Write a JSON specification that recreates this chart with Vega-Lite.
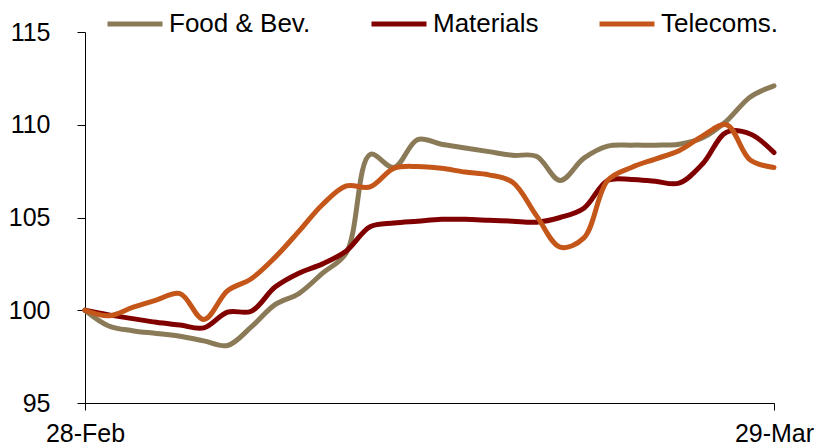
{
  "$schema": "https://vega.github.io/schema/vega-lite/v6.json",
  "autosize": "none",
  "width": 689,
  "height": 371,
  "padding": {"left": 85, "top": 32, "right": 50, "bottom": 44},
  "background": "white",
  "config": {
    "view": {"stroke": null},
    "font": "Liberation Sans",
    "axis": {"labelFont": "Liberation Sans", "labelColor": "#000000", "grid": false, "domainColor": "#000000", "tickColor": "#000000", "domainWidth": 1, "tickWidth": 1}
  },
  "data": {
    "values": [
      {"date": "2013/02/28", "series": "Food & Bev.", "value": 100.0},
      {"date": "2013/03/01", "series": "Food & Bev.", "value": 99.15},
      {"date": "2013/03/02", "series": "Food & Bev.", "value": 98.9},
      {"date": "2013/03/03", "series": "Food & Bev.", "value": 98.75},
      {"date": "2013/03/04", "series": "Food & Bev.", "value": 98.6},
      {"date": "2013/03/05", "series": "Food & Bev.", "value": 98.35},
      {"date": "2013/03/06", "series": "Food & Bev.", "value": 98.1},
      {"date": "2013/03/07", "series": "Food & Bev.", "value": 99.1},
      {"date": "2013/03/08", "series": "Food & Bev.", "value": 100.3},
      {"date": "2013/03/09", "series": "Food & Bev.", "value": 100.9},
      {"date": "2013/03/10", "series": "Food & Bev.", "value": 102.0},
      {"date": "2013/03/11", "series": "Food & Bev.", "value": 103.1},
      {"date": "2013/03/12", "series": "Food & Bev.", "value": 108.4},
      {"date": "2013/03/13", "series": "Food & Bev.", "value": 107.7},
      {"date": "2013/03/14", "series": "Food & Bev.", "value": 109.2},
      {"date": "2013/03/15", "series": "Food & Bev.", "value": 108.95},
      {"date": "2013/03/16", "series": "Food & Bev.", "value": 108.75},
      {"date": "2013/03/17", "series": "Food & Bev.", "value": 108.55},
      {"date": "2013/03/18", "series": "Food & Bev.", "value": 108.35},
      {"date": "2013/03/19", "series": "Food & Bev.", "value": 108.3},
      {"date": "2013/03/20", "series": "Food & Bev.", "value": 107.0},
      {"date": "2013/03/21", "series": "Food & Bev.", "value": 108.2},
      {"date": "2013/03/22", "series": "Food & Bev.", "value": 108.85},
      {"date": "2013/03/23", "series": "Food & Bev.", "value": 108.9},
      {"date": "2013/03/24", "series": "Food & Bev.", "value": 108.9},
      {"date": "2013/03/25", "series": "Food & Bev.", "value": 108.95},
      {"date": "2013/03/26", "series": "Food & Bev.", "value": 109.3},
      {"date": "2013/03/27", "series": "Food & Bev.", "value": 110.2},
      {"date": "2013/03/28", "series": "Food & Bev.", "value": 111.5},
      {"date": "2013/03/29", "series": "Food & Bev.", "value": 112.1},
      {"date": "2013/02/28", "series": "Materials", "value": 100.0},
      {"date": "2013/03/01", "series": "Materials", "value": 99.75},
      {"date": "2013/03/02", "series": "Materials", "value": 99.55},
      {"date": "2013/03/03", "series": "Materials", "value": 99.35},
      {"date": "2013/03/04", "series": "Materials", "value": 99.2},
      {"date": "2013/03/05", "series": "Materials", "value": 99.05},
      {"date": "2013/03/06", "series": "Materials", "value": 99.9},
      {"date": "2013/03/07", "series": "Materials", "value": 99.95},
      {"date": "2013/03/08", "series": "Materials", "value": 101.25},
      {"date": "2013/03/09", "series": "Materials", "value": 102.0},
      {"date": "2013/03/10", "series": "Materials", "value": 102.5},
      {"date": "2013/03/11", "series": "Materials", "value": 103.2},
      {"date": "2013/03/12", "series": "Materials", "value": 104.5},
      {"date": "2013/03/13", "series": "Materials", "value": 104.7},
      {"date": "2013/03/14", "series": "Materials", "value": 104.8},
      {"date": "2013/03/15", "series": "Materials", "value": 104.9},
      {"date": "2013/03/16", "series": "Materials", "value": 104.9},
      {"date": "2013/03/17", "series": "Materials", "value": 104.85},
      {"date": "2013/03/18", "series": "Materials", "value": 104.8},
      {"date": "2013/03/19", "series": "Materials", "value": 104.75},
      {"date": "2013/03/20", "series": "Materials", "value": 105.0},
      {"date": "2013/03/21", "series": "Materials", "value": 105.5},
      {"date": "2013/03/22", "series": "Materials", "value": 107.0},
      {"date": "2013/03/23", "series": "Materials", "value": 107.05},
      {"date": "2013/03/24", "series": "Materials", "value": 106.95},
      {"date": "2013/03/25", "series": "Materials", "value": 106.85},
      {"date": "2013/03/26", "series": "Materials", "value": 107.9},
      {"date": "2013/03/27", "series": "Materials", "value": 109.6},
      {"date": "2013/03/28", "series": "Materials", "value": 109.5},
      {"date": "2013/03/29", "series": "Materials", "value": 108.5},
      {"date": "2013/02/28", "series": "Telecoms.", "value": 100.0},
      {"date": "2013/03/01", "series": "Telecoms.", "value": 99.7},
      {"date": "2013/03/02", "series": "Telecoms.", "value": 100.15},
      {"date": "2013/03/03", "series": "Telecoms.", "value": 100.55},
      {"date": "2013/03/04", "series": "Telecoms.", "value": 100.9},
      {"date": "2013/03/05", "series": "Telecoms.", "value": 99.5},
      {"date": "2013/03/06", "series": "Telecoms.", "value": 101.05},
      {"date": "2013/03/07", "series": "Telecoms.", "value": 101.7},
      {"date": "2013/03/08", "series": "Telecoms.", "value": 102.85},
      {"date": "2013/03/09", "series": "Telecoms.", "value": 104.25},
      {"date": "2013/03/10", "series": "Telecoms.", "value": 105.7},
      {"date": "2013/03/11", "series": "Telecoms.", "value": 106.7},
      {"date": "2013/03/12", "series": "Telecoms.", "value": 106.65},
      {"date": "2013/03/13", "series": "Telecoms.", "value": 107.65},
      {"date": "2013/03/14", "series": "Telecoms.", "value": 107.75},
      {"date": "2013/03/15", "series": "Telecoms.", "value": 107.65},
      {"date": "2013/03/16", "series": "Telecoms.", "value": 107.45},
      {"date": "2013/03/17", "series": "Telecoms.", "value": 107.3},
      {"date": "2013/03/18", "series": "Telecoms.", "value": 106.9},
      {"date": "2013/03/19", "series": "Telecoms.", "value": 105.1},
      {"date": "2013/03/20", "series": "Telecoms.", "value": 103.4},
      {"date": "2013/03/21", "series": "Telecoms.", "value": 103.9},
      {"date": "2013/03/22", "series": "Telecoms.", "value": 107.0},
      {"date": "2013/03/23", "series": "Telecoms.", "value": 107.7},
      {"date": "2013/03/24", "series": "Telecoms.", "value": 108.15},
      {"date": "2013/03/25", "series": "Telecoms.", "value": 108.6},
      {"date": "2013/03/26", "series": "Telecoms.", "value": 109.4},
      {"date": "2013/03/27", "series": "Telecoms.", "value": 110.0},
      {"date": "2013/03/28", "series": "Telecoms.", "value": 108.1},
      {"date": "2013/03/29", "series": "Telecoms.", "value": 107.7}
    ]
  },
  "mark": {"type": "line", "interpolate": "catmull-rom", "strokeWidth": 5, "strokeCap": "round", "strokeJoin": "round"},
  "encoding": {
    "x": {
      "field": "date",
      "type": "temporal",
      "scale": {"domain": [{"year": 2013, "month": 2, "date": 28}, {"year": 2013, "month": 3, "date": 29}]},
      "axis": {
        "title": null,
        "values": [{"year": 2013, "month": 2, "date": 28}, {"year": 2013, "month": 3, "date": 29}],
        "format": "%d-%b",
        "labelFontSize": 25,
        "tickSize": 7,
        "labelPadding": 11,
        "labelOverlap": false,
        "labelFlush": false,
        "labelBound": false
      }
    },
    "y": {
      "field": "value",
      "type": "quantitative",
      "scale": {"domain": [95, 115], "nice": false, "zero": false},
      "axis": {
        "title": null,
        "values": [95, 100, 105, 110, 115],
        "labelFontSize": 25,
        "tickSize": 8,
        "labelPadding": 27,
        "labelOverlap": false
      }
    },
    "color": {
      "field": "series",
      "type": "nominal",
      "scale": {"domain": ["Food & Bev.", "Materials", "Telecoms."], "range": ["#8B7A57", "#800000", "#C4561A"]},
      "legend": {
        "title": null,
        "orient": "none",
        "direction": "horizontal",
        "legendX": 20,
        "legendY": -38,
        "padding": 0,
        "symbolType": "stroke",
        "symbolSize": 3025,
        "symbolStrokeWidth": 5,
        "labelFont": "Liberation Sans",
        "labelFontSize": 26,
        "labelColor": "#000000",
        "labelOffset": 4,
        "columnPadding": 50,
        "labelLimit": 300
      }
    }
  }
}
